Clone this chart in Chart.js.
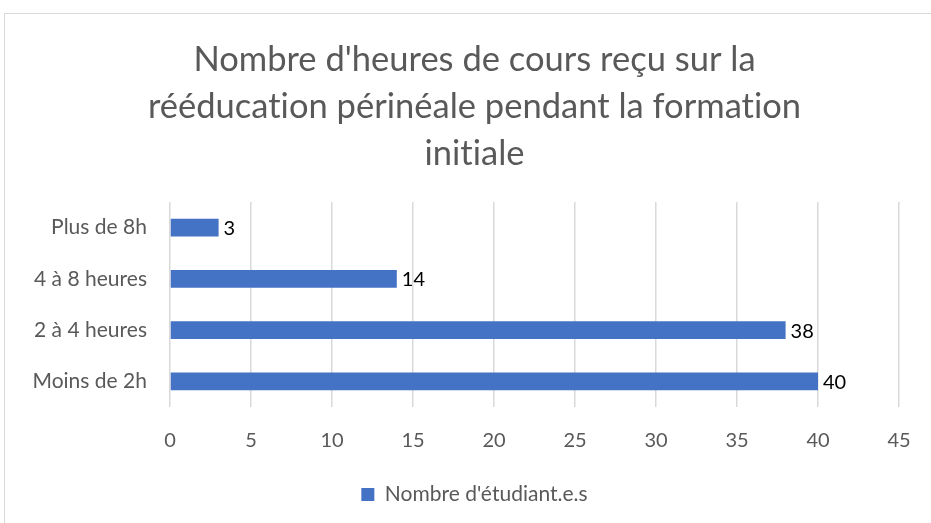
<!DOCTYPE html>
<html><head><meta charset="utf-8">
<script src="https://cdn.jsdelivr.net/npm/chart.js@4"></script>
<style>
html,body{margin:0;padding:0;background:#fff;overflow:hidden;width:931px;height:523px;}
#frame{position:absolute;left:4px;top:13px;width:940px;height:520px;border:1px solid #d9d9d9;box-sizing:border-box;}
#wrap{position:absolute;left:0;top:0;width:931px;height:523px;overflow:hidden;}
</style></head>
<body>
<div id="frame"></div>
<div id="wrap"><canvas id="c" width="949" height="523"></canvas></div>
<script>
const categories = ["Plus de 8h", "4 à 8 heures", "2 à 4 heures", "Moins de 2h"];
const values = [3, 14, 38, 40];
const seriesName = "Nombre d'étudiant.e.s";
const titleLines = ["Nombre d'heures de cours reçu sur la", "rééducation périnéale pendant la formation", "initiale"];
const xTicks = [0, 5, 10, 15, 20, 25, 30, 35, 40, 45];

const FONT = "Lato, 'Open Sans', sans-serif";

const noLigatures = {
  id: 'noLig',
  beforeLayout(chart) { chart.ctx.letterSpacing = '0.01px'; },
  beforeDraw(chart) { chart.ctx.letterSpacing = '0.01px'; }
};

const labelPlugin = {
  id: 'barLabels',
  afterDatasetsDraw(chart) {
    const ctx = chart.ctx;
    const meta = chart.getDatasetMeta(0);
    ctx.save();
    ctx.font = "20px " + FONT;
    ctx.fillStyle = "#000";
    ctx.textBaseline = "middle";
    ctx.textAlign = "left";
    meta.data.forEach((el, i) => {
      ctx.fillText(String(values[i]), el.x + 5, el.y + 1);
    });
    ctx.restore();
  }
};

new Chart(document.getElementById('c'), {
  type: 'bar',
  data: {
    labels: categories,
    datasets: [{
      label: seriesName,
      data: values,
      backgroundColor: '#4472C4',
      borderWidth: 0,
      barPercentage: 0.35,
      categoryPercentage: 1.0
    }]
  },
  options: {
    indexAxis: 'y',
    responsive: false,
    animation: false,
    devicePixelRatio: 1,
    layout: { padding: { left: 0, right: 0, top: 0, bottom: 8 } },
    plugins: {
      title: {
        display: true,
        text: titleLines,
        color: '#595959',
        font: { family: FONT, size: 34.5, weight: 'normal', lineHeight: '47px' },
        padding: { top: 36, bottom: 25 }
      },
      legend: {
        display: true,
        position: 'bottom',
        labels: {
          color: '#595959',
          font: { family: FONT, size: 21 },
          boxWidth: 13,
          boxHeight: 13,
          padding: 9
        }
      },
      tooltip: { enabled: false }
    },
    scales: {
      x: {
        min: 0, max: 45,
        afterBuildTicks(scale) { scale.ticks = xTicks.map(v => ({ value: v })); },
        ticks: { color: '#595959', font: { family: FONT, size: 20 }, padding: 22 },
        grid: { color: '#d9d9d9', lineWidth: 1.5, drawTicks: false },
        border: { display: false }
      },
      y: {
        afterFit(scale) { scale.width = 170; },
        ticks: { color: '#595959', font: { family: FONT, size: 21 }, padding: 23 },
        grid: { display: false, drawTicks: false },
        border: { display: false }
      },
      yRight: {
        type: 'linear',
        position: 'right',
        display: true,
        afterFit(scale) { scale.width = 50; },
        ticks: { display: false },
        grid: { display: false, drawTicks: false },
        border: { display: false }
      }
    }
  },
  plugins: [noLigatures, labelPlugin]
});
</script>
</body></html>
